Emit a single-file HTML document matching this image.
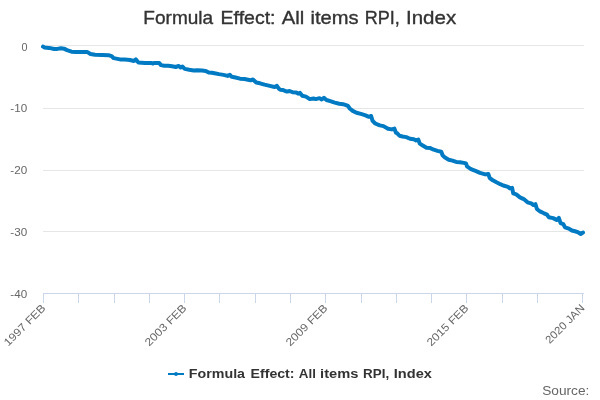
<!DOCTYPE html>
<html><head><meta charset="utf-8"><style>
html,body{margin:0;padding:0;background:#fff;width:600px;height:400px;overflow:hidden}
svg{display:block;will-change:transform;font-family:"Liberation Sans",sans-serif}
</style></head><body>
<svg width="600" height="400" viewBox="0 0 600 400">
<rect width="600" height="400" fill="#fff"/>
<g stroke="#e6e6e6" stroke-width="1" fill="none"><path d="M43 45.5 H584" /><path d="M43 108.5 H584" /><path d="M43 170.5 H584" /><path d="M43 231.5 H584" /></g>
<g stroke="#ccd6eb" stroke-width="1" fill="none"><path d="M43 293.5 H584"/><path d="M43.5 293.5 V303" /><path d="M78.5 293.5 V303" /><path d="M114.5 293.5 V303" /><path d="M149.5 293.5 V303" /><path d="M184.5 293.5 V303" /><path d="M219.5 293.5 V303" /><path d="M255.5 293.5 V303" /><path d="M290.5 293.5 V303" /><path d="M325.5 293.5 V303" /><path d="M361.5 293.5 V303" /><path d="M396.5 293.5 V303" /><path d="M431.5 293.5 V303" /><path d="M466.5 293.5 V303" /><path d="M502.5 293.5 V303" /><path d="M537.5 293.5 V303" /><path d="M582.5 293.5 V303" /></g>
<g font-size="11" fill="#666"><text transform="translate(46.2,308.8) rotate(-45)" text-anchor="end" textLength="53.5" lengthAdjust="spacingAndGlyphs">1997 FEB</text><text transform="translate(187.2,308.8) rotate(-45)" text-anchor="end" textLength="53.5" lengthAdjust="spacingAndGlyphs">2003 FEB</text><text transform="translate(328.2,308.8) rotate(-45)" text-anchor="end" textLength="53.5" lengthAdjust="spacingAndGlyphs">2009 FEB</text><text transform="translate(469.2,308.8) rotate(-45)" text-anchor="end" textLength="53.5" lengthAdjust="spacingAndGlyphs">2015 FEB</text><text transform="translate(585.2,308.8) rotate(-45)" text-anchor="end" textLength="50" lengthAdjust="spacingAndGlyphs">2020 JAN</text></g>
<text x="143.36" y="23.8" font-size="18.5" font-weight="400" fill="#333" stroke="#333" stroke-width="0.35" textLength="69.79" lengthAdjust="spacingAndGlyphs">Formula</text><text x="220.57" y="23.8" font-size="18.5" font-weight="400" fill="#333" stroke="#333" stroke-width="0.35" textLength="54.98" lengthAdjust="spacingAndGlyphs">Effect:</text><text x="281.79" y="23.8" font-size="18.5" font-weight="400" fill="#333" stroke="#333" stroke-width="0.35" textLength="22.49" lengthAdjust="spacingAndGlyphs">All</text><text x="310.50" y="23.8" font-size="18.5" font-weight="400" fill="#333" stroke="#333" stroke-width="0.35" textLength="48.07" lengthAdjust="spacingAndGlyphs">items</text><text x="364.64" y="23.8" font-size="18.5" font-weight="400" fill="#333" stroke="#333" stroke-width="0.35" textLength="35.10" lengthAdjust="spacingAndGlyphs">RPI,</text><text x="406.02" y="23.8" font-size="18.5" font-weight="400" fill="#333" stroke="#333" stroke-width="0.35" textLength="50.17" lengthAdjust="spacingAndGlyphs">Index</text><text x="188.85" y="377.8" font-size="12" font-weight="700" fill="#333" textLength="56.18" lengthAdjust="spacingAndGlyphs">Formula</text><text x="250.56" y="377.8" font-size="12" font-weight="700" fill="#333" textLength="43.98" lengthAdjust="spacingAndGlyphs">Effect:</text><text x="298.87" y="377.8" font-size="12" font-weight="700" fill="#333" textLength="17.06" lengthAdjust="spacingAndGlyphs">All</text><text x="320.12" y="377.8" font-size="12" font-weight="700" fill="#333" textLength="38.33" lengthAdjust="spacingAndGlyphs">items</text><text x="363.11" y="377.8" font-size="12" font-weight="700" fill="#333" textLength="26.03" lengthAdjust="spacingAndGlyphs">RPI,</text><text x="393.83" y="377.8" font-size="12" font-weight="700" fill="#333" textLength="38.04" lengthAdjust="spacingAndGlyphs">Index</text><text x="542.17" y="394.7" font-size="12" font-weight="400" fill="#666" textLength="47.14" lengthAdjust="spacingAndGlyphs">Source:</text><text x="21.61" y="51" font-size="11" font-weight="400" fill="#666" textLength="6.00" lengthAdjust="spacingAndGlyphs">0</text><text x="10.37" y="112" font-size="11" font-weight="400" fill="#666" textLength="16.85" lengthAdjust="spacingAndGlyphs">-10</text><text x="10.37" y="174" font-size="11" font-weight="400" fill="#666" textLength="16.85" lengthAdjust="spacingAndGlyphs">-20</text><text x="10.37" y="236" font-size="11" font-weight="400" fill="#666" textLength="16.85" lengthAdjust="spacingAndGlyphs">-30</text><text x="10.37" y="298" font-size="11" font-weight="400" fill="#666" textLength="16.85" lengthAdjust="spacingAndGlyphs">-40</text>
<path d="M43 46.6 L44.5 47.4 L49 47.9 L54.25 49 L57.25 48.9 L61 48.3 L64 48.65 L67 50.15 L71.5 51.65 L76 52 L80 52 L87.5 52.1 L90.5 54 L95 54.8 L102.5 55 L108.5 55.15 L111.5 56.1 L113.75 58.15 L120 59.4 L124.5 59.5 L130 60 L133.9 61 L135.75 59.4 L138.4 62.5 L145 63 L151.6 63 L152.7 63.6 L154 63 L159.3 63.1 L161 65.1 L164.3 65.7 L168.1 65.8 L172 66.3 L175.75 67 L178.75 65.9 L180.6 67.5 L182.5 66.6 L184.75 68.9 L189.25 69.8 L193.75 70.5 L197.5 70.2 L202 70.5 L205.75 70.9 L208.75 72.6 L212 72.8 L214.5 73.25 L219 74.15 L223.5 74.9 L227.6 75.9 L229.9 74.9 L231.75 76.8 L235.5 77.5 L240 78.65 L244.5 79 L248 79.75 L250.6 80.3 L252.9 79.5 L256.25 82.5 L260 83.3 L264.5 84.6 L269.75 85.9 L274.6 87 L276.9 85.9 L279 88.8 L280.25 89.65 L283 90 L285 90.9 L286.9 91.6 L289.5 91 L292.5 92.15 L296.25 92.5 L298.1 93.65 L300 92.9 L302.25 95.75 L306 96.65 L309.75 99.1 L313.5 98.5 L315.75 99.1 L319.5 98.15 L321.75 99.5 L323.9 97.9 L326.5 100 L330.25 101.15 L334.75 102.65 L339.25 103.8 L343 104.15 L346 105.1 L347.9 105.9 L349.75 108.5 L352.75 110.9 L356.5 112.8 L361.75 114.15 L365.5 115.3 L368.9 116.8 L371.1 116 L372.6 120.9 L375.25 123.5 L379.75 125.4 L383.5 126.15 L388 128.8 L391.75 129.4 L394.4 128.6 L395.9 132.6 L397.25 133.3 L399.5 135.75 L402.5 136.5 L406.25 137.1 L410 138.75 L413.75 139.3 L416 140.4 L418.25 139.5 L419.75 143.6 L422.75 145.5 L426.5 147.75 L430.25 148.1 L433.75 149.7 L437.5 150.9 L441.25 151.8 L442.6 155.3 L445 157.6 L448.75 159.7 L452.5 160.6 L456.25 161.9 L460 162.3 L463.75 162.9 L466 163.4 L467 166.3 L470 168.5 L471 169.2 L475.5 170.9 L480 172.9 L485.25 174.4 L488.25 173.9 L489.75 178.2 L492.75 180.25 L496.5 182.3 L500.25 184.2 L503.25 185.5 L508 186.9 L509.9 188.4 L512.1 187.9 L513.25 193.3 L516.25 194.4 L520 197.4 L523.75 199.1 L527.5 202.3 L531.25 203.4 L533.5 205.1 L535.4 204.2 L536.9 209 L538.75 210.5 L540 211.4 L543.5 213.05 L547 214.6 L548.75 217.25 L553.1 218.1 L556.6 219.9 L558.8 217.9 L560.6 223.1 L563.2 224.1 L565 227.3 L568.9 228.6 L571.9 230.5 L575 231.25 L577.6 232.1 L580.7 233.9 L583 232.6" fill="none" stroke="#007ac2" stroke-width="4" stroke-linejoin="round" stroke-linecap="round"/>
<path d="M168 374 H184" stroke="#007ac2" stroke-width="2"/>
<circle cx="176" cy="374" r="1.9" fill="#007ac2"/>
</svg>
</body></html>
